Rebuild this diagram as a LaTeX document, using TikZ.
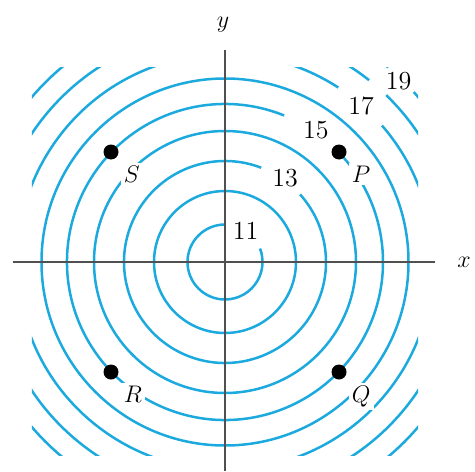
\documentclass[tikz,border=0pt]{standalone}
\usetikzlibrary{positioning}
\definecolor{contourblue}{RGB}{28,170,222}
\definecolor{axisgray}{RGB}{80,80,80}

\begin{document}
\begin{tikzpicture}[
    x=0.5pt, y=0.5pt,
    font=\fontsize{13}{15}\selectfont,
    contour/.style={contourblue, line width=1.25pt},
    axis/.style={axisgray, line width=0.6pt},
    dot/.style={circle, fill=black, inner sep=0pt, minimum size=7.5pt},
    ptlabel/.style={fill=white, inner sep=1.5pt},
    level/.style={inner sep=1pt},
    axislabel/.style={inner sep=0pt}
]
    \useasboundingbox (-225,-209) rectangle (250,262);

    % Level curves
    \begin{scope}
        \clip (-193,-193) rectangle (193,194);
        \draw[contour] (90:37.5) arc[start angle=90, end angle=381, radius=37.5];
        \draw[contour] (0:71) arc[start angle=0, end angle=360, radius=71];
        \draw[contour] (69:101) arc[start angle=69, end angle=402, radius=101];
        \draw[contour] (0:131) arc[start angle=0, end angle=360, radius=131];
        \draw[contour] (68:158) arc[start angle=68, end angle=404, radius=158];
        \draw[contour] (0:183.5) arc[start angle=0, end angle=360, radius=183.5];
        \draw[contour] (57:208) arc[start angle=57, end angle=401, radius=208];
        \draw[contour] (51.6:232) arc[start angle=51.6, end angle=406, radius=232];
        \draw[contour] (50:254) arc[start angle=50, end angle=402, radius=254];
    \end{scope}

    % Axes
    \coordinate (xmin) at (-212,0);
    \coordinate (xmax) at (210,0);
    \coordinate (ymin) at (0,-209);
    \coordinate (ymax) at (0,212);
    \draw[axis] (xmin) -- (xmax);
    \draw[axis] (ymin) -- (ymax);
    \node[axislabel, right=11pt of xmax] (xlabel) {$x$};
    \node[axislabel, above=8.5pt of ymax, xshift=-1pt] (ylabel) {$y$};

    % Level values
    \node[level] (l11) at (56:37) {11};
    \node[level] (l13) at (54.3:103) {13};
    \node[level] (l15) at (55.4:160) {15};
    \node[level] (l17) at (48.9:207) {17};
    \node[level] (l19) at (46.2:251) {19};

    % Points
    \node[dot] (p) at (114,110) {};
    \node[dot] (s) at (-114,110) {};
    \node[dot] (r) at (-114,-110) {};
    \node[dot] (q) at (114,-110) {};
    \node[ptlabel, below right=2.5pt and 2pt of p] (plabel) {$P$};
    \node[ptlabel, below right=2.5pt and 2pt of s] (slabel) {$S$};
    \node[ptlabel, below right=2.5pt and 2pt of r] (rlabel) {$R$};
    \node[ptlabel, below right=2.5pt and 2pt of q] (qlabel) {$Q$};
\end{tikzpicture}
\end{document}
